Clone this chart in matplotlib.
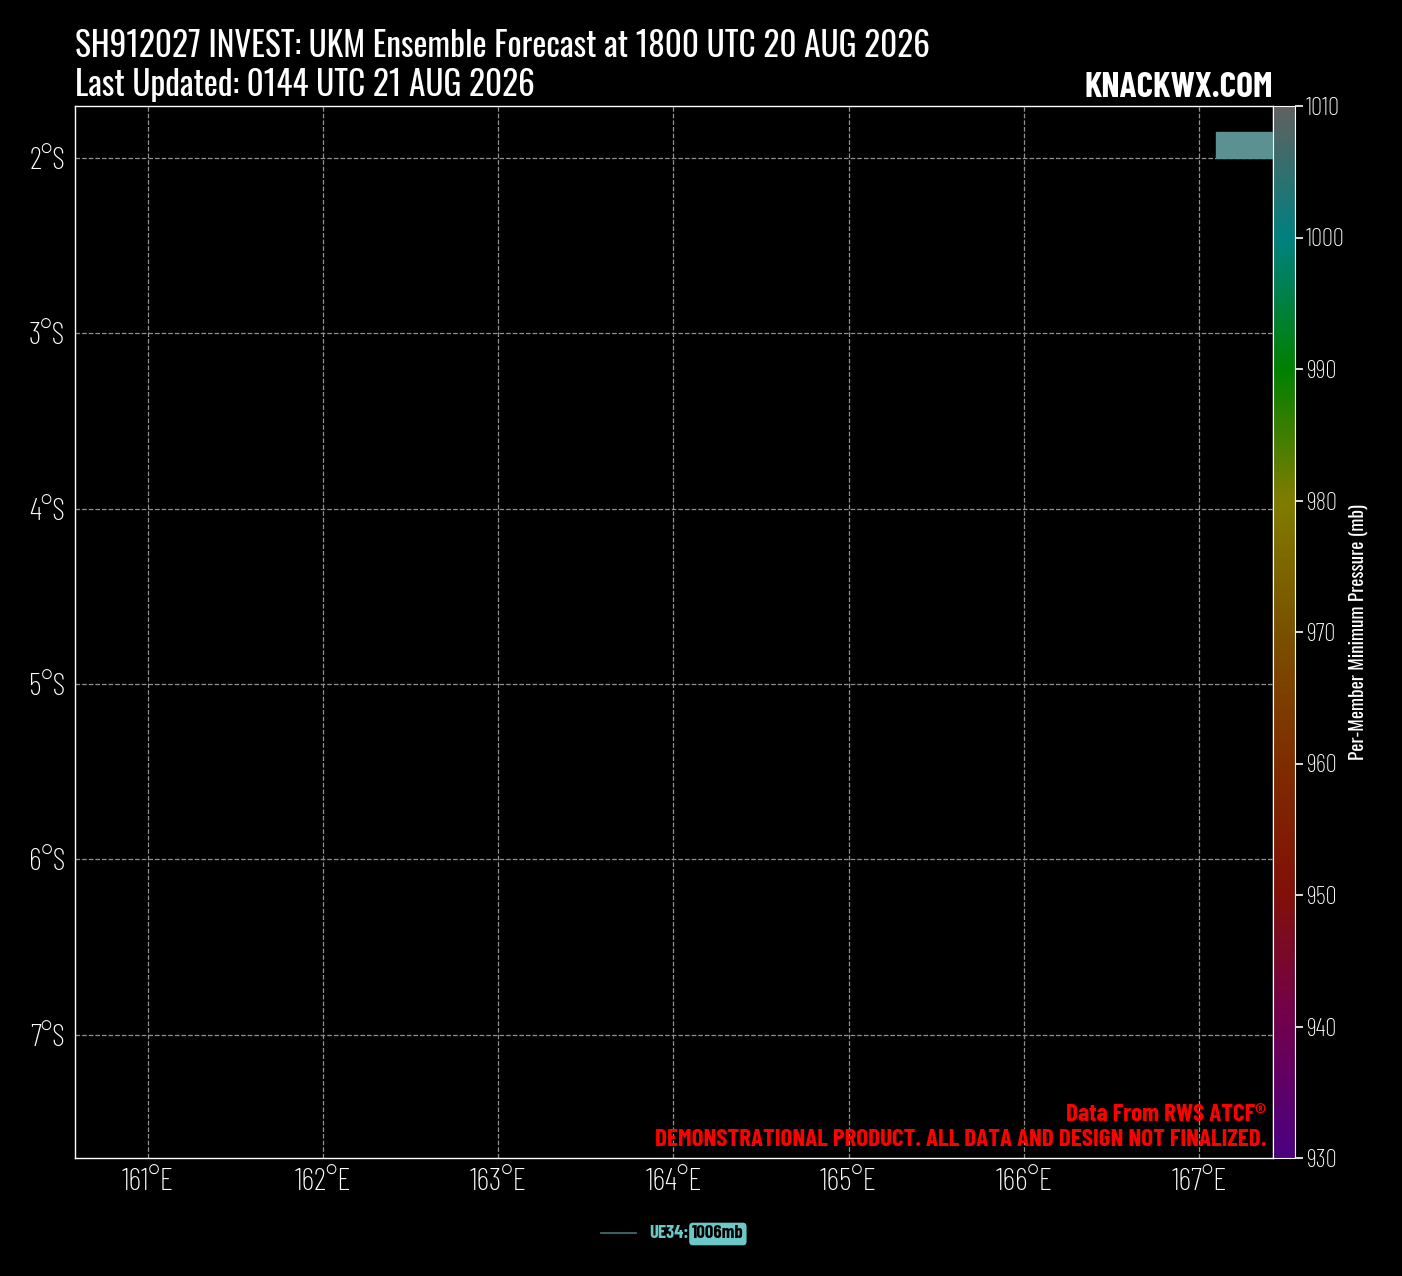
import numpy as np
import matplotlib
matplotlib.use("Agg")
import matplotlib.pyplot as plt
from matplotlib import font_manager
from matplotlib.font_manager import FontProperties
from matplotlib.colors import LinearSegmentedColormap, Normalize
from matplotlib.cm import ScalarMappable
from matplotlib.lines import Line2D
from matplotlib.patches import Rectangle

# chart values
storm = "SH912027 INVEST"
model = "UKM Ensemble Forecast at 1800 UTC 20 AUG 2026"
updated = "Last Updated: 0144 UTC 21 AUG 2026"
lon_ticks = [161, 162, 163, 164, 165, 166, 167]
lat_ticks = [-2, -3, -4, -5, -6, -7]
lon_range = [160.583, 167.423]
lat_range = [-7.703, -1.703]
cbar_ticks = [930, 940, 950, 960, 970, 980, 990, 1000, 1010]
member = "UE34"
member_pres = 1006
# label box of the member (partly outside the map)
box_lon = [167.097, 167.55]
box_lat = [-2.0, -1.851]

# pressure colormap anchors
pres_levels = [930, 940, 950, 960, 970, 980, 990, 1000, 1010]
pres_colors = ["#4b0082", "#700050", "#801008", "#7f2c00", "#7a5000",
               "#807c00", "#008000", "#008080", "#606060"]

W, H = 1402, 1276

# Oswald (single weight here); condensed faces for thin / bold texts
oswald = [f for f in font_manager.fontManager.ttflist
          if f.name.startswith('Oswald') and 'italic' not in f.style]


def font(size):
    if oswald:
        return FontProperties(fname=oswald[0].fname, size=size)
    return FontProperties(family='Barlow Condensed', size=size)


def thin(size):
    return FontProperties(family=['Barlow Condensed', 'DejaVu Sans'], weight=275, size=size)


def heavy(size):
    return FontProperties(family=['Barlow Condensed', 'DejaVu Sans'], weight=700, size=size)


norm = Normalize(930, 1010)
stops = [(p - 930) / 80 for p in pres_levels]
cmap = LinearSegmentedColormap.from_list("pres", list(zip(stops, pres_colors)))

fig = plt.figure(figsize=(W / 100, H / 100), dpi=100, facecolor='black')


def fx(px):
    return px / W


def fy(py):
    return 1 - py / H


ax = fig.add_axes([fx(75), fy(1158), fx(1273) - fx(75), fy(106) - fy(1158)])
ax.set_facecolor('black')
ax.set_xlim(lon_range)
ax.set_ylim(lat_range)
ax.set_xticks(lon_ticks)
ax.set_yticks(lat_ticks)
ax.set_xticklabels([f"{v}°E" for v in lon_ticks], fontproperties=thin(22.5))
ax.set_yticklabels([f"{abs(v)}°S" for v in lat_ticks], fontproperties=thin(22.5))
ax.tick_params(length=0, colors='white', pad=7)
ax.grid(True, color='#909090', linestyle='--', linewidth=0.9)
for s in ax.spines.values():
    s.set_color('white')
    s.set_linewidth(1)

# member label box
ax.add_patch(Rectangle((box_lon[0], box_lat[0]), box_lon[1] - box_lon[0],
                       box_lat[1] - box_lat[0], facecolor='#5b9191',
                       edgecolor='#5b9191', zorder=3))

# colorbar
cax = fig.add_axes([fx(1273), fy(1158), fx(1295) - fx(1273), fy(106) - fy(1158)])
sm = ScalarMappable(norm=norm, cmap=cmap)
cb = fig.colorbar(sm, cax=cax, ticks=cbar_ticks)
cb.outline.set_edgecolor('white')
cax.tick_params(colors='white', length=6, width=1.2, pad=2)
for lbl in cax.get_yticklabels():
    lbl.set_fontproperties(thin(18))
cb.set_label("Per-Member Minimum Pressure (mb)", color='white',
             fontproperties=font(13.8), labelpad=3)

# titles
fig.text(fx(75), fy(46), f"{storm}: {model}", color='white',
         fontproperties=font(24), ha='left', va='center')
fig.text(fx(75), fy(85), updated, color='white',
         fontproperties=font(24), ha='left', va='center')
fig.text(fx(1273), fy(88), "KNACKWX.COM", color='white',
         fontproperties=heavy(25.5), ha='right', va='center')

# footer notes
fig.text(fx(1266), fy(1115), "Data From RWS ATCF®", color='red',
         fontproperties=heavy(18), ha='right', va='center')
fig.text(fx(1266), fy(1140), "DEMONSTRATIONAL PRODUCT. ALL DATA AND DESIGN NOT FINALIZED.",
         color='red', fontproperties=heavy(18), ha='right', va='center')

# legend
track_color = cmap(norm(member_pres))
fig.add_artist(Line2D([fx(601), fx(636)], [fy(1233), fy(1233)], color=track_color,
                      linewidth=1.3, transform=fig.transFigure))
fig.text(fx(649), fy(1234), f"{member}:", color='#6cc8c8',
         fontproperties=heavy(13.5), ha='left', va='center')
fig.text(fx(692), fy(1234), f"{member_pres}mb", color='black',
         fontproperties=heavy(13.5), ha='left', va='center',
         bbox=dict(boxstyle='round,pad=0.15,rounding_size=0.2', facecolor='#6cc8c8',
                   edgecolor='none'))

fig.savefig("out.png", dpi=100, facecolor='black')
